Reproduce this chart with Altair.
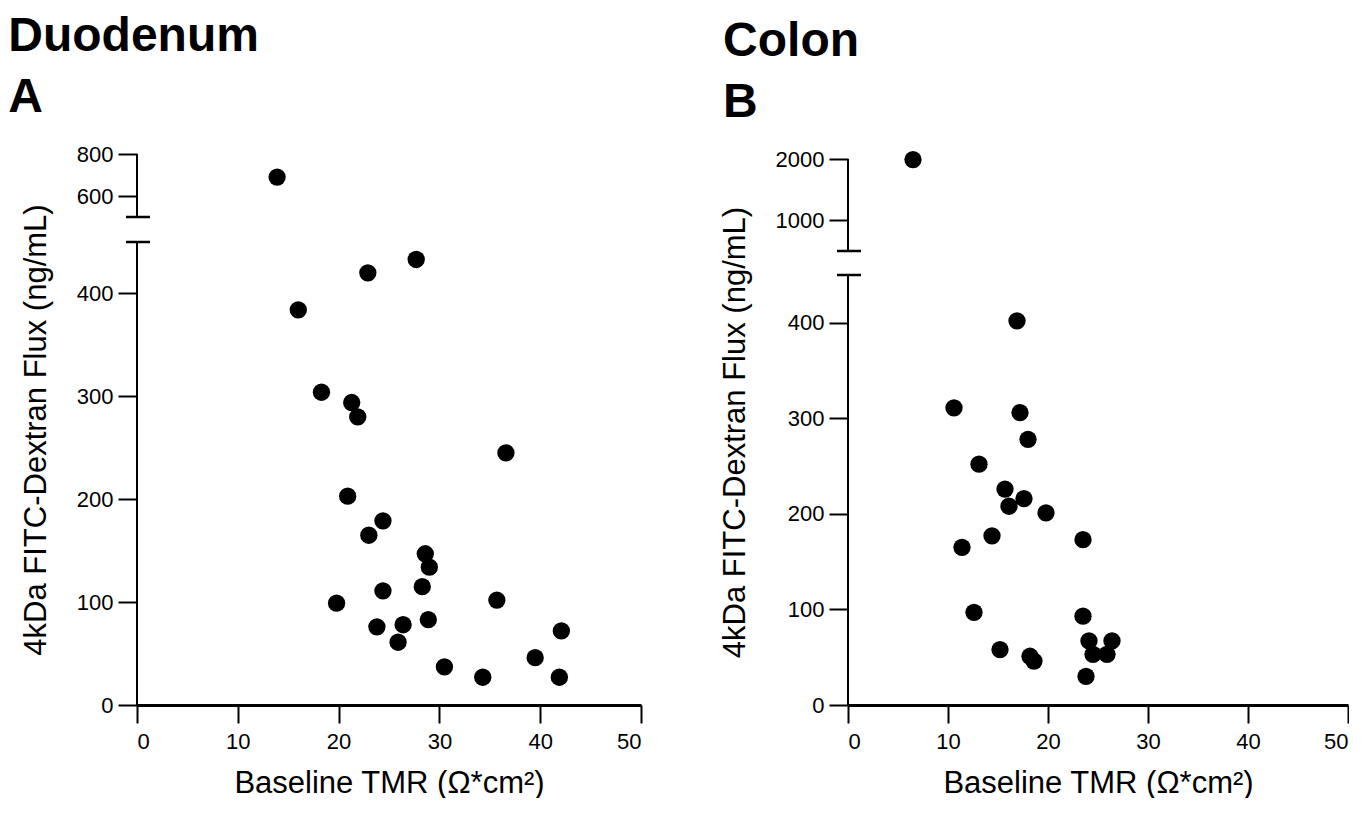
import altair as alt
import pandas as pd

# Duodenum (panel A)
duo_x = [13.9, 27.7, 22.9, 16.0, 18.3, 21.3, 21.9, 36.6, 20.9, 24.4, 23.0, 28.6, 29.0,
         28.3, 24.4, 19.8, 35.7, 23.8, 26.4, 25.9, 28.9, 42.1, 30.5, 34.3, 39.5, 41.9]
duo_y = [690, 433, 420, 384, 304, 294, 280, 245, 203, 179, 165, 147, 134,
         115, 111, 99, 102, 76, 78, 61, 83, 72, 37, 27, 46, 27]

# Colon (panel B)
col_x = [6.5, 16.9, 10.6, 17.2, 18.0, 13.1, 15.7, 17.6, 16.1, 19.8, 23.5, 14.4,
         11.4, 12.6, 23.5, 24.1, 26.4, 24.5, 25.9, 15.2, 18.2, 18.6, 23.8]
col_y = [1990, 402, 311, 306, 278, 252, 226, 216, 208, 201, 173, 177,
         165, 97, 93, 67, 67, 53, 53, 58, 51, 46, 30]

# broken-axis segments and tick labels
duo_segments = [(0, 450), (500, 800)]
col_segments = [(0, 450), (500, 2000)]
duo_ticks = [0, 100, 200, 300, 400, 600, 800]
col_ticks = [0, 100, 200, 300, 400, 1000, 2000]
x_ticks = [0, 10, 20, 30, 40, 50]

FONT = "Liberation Sans"
Y_TITLE = "4kDa FITC-Dextran Flux (ng/mL)"
X_TITLE = "Baseline TMR (Ω*cm²)"
H = 551


def panel(xs, ys, segments, ticks, domain, rng, width, title, title_dx):
    df = pd.DataFrame({"x": xs, "y": ys})
    seg_df = pd.DataFrame({"y": [s[0] for s in segments], "y2": [s[1] for s in segments]})
    cap_df = pd.DataFrame({"y": [segments[0][1], segments[1][0]]})

    yscale = alt.Scale(domain=domain, range=rng, nice=False, zero=False)
    xscale = alt.Scale(domain=[0, 50], nice=False, zero=False)
    yaxis = alt.Axis(values=ticks, format="d", title=Y_TITLE, domain=False, grid=False,
                     tickSize=19, tickWidth=2, tickColor="black",
                     labelFont=FONT, labelFontSize=22, labelColor="black", labelPadding=5,
                     titleFont=FONT, titleFontSize=31, titleFontWeight="normal",
                     titleColor="black", titlePadding=24)
    xaxis = alt.Axis(values=x_ticks, format="d", title=X_TITLE, grid=False,
                     domainColor="black", domainWidth=3,
                     tickSize=18, tickWidth=2, tickColor="black",
                     labelFont=FONT, labelFontSize=22, labelColor="black", labelPadding=8,
                     titleFont=FONT, titleFontSize=31, titleFontWeight="normal",
                     titleColor="black", titlePadding=16)

    pts = alt.Chart(df).mark_circle(size=300, color="black", opacity=1).encode(
        x=alt.X("x:Q", scale=xscale, axis=xaxis),
        y=alt.Y("y:Q", scale=yscale, axis=yaxis),
    )
    segs = alt.Chart(seg_df).mark_rule(color="black", strokeWidth=2).encode(
        x=alt.value(0),
        y=alt.Y("y:Q", scale=yscale, axis=yaxis),
        y2="y2:Q",
    )
    caps = alt.Chart(cap_df).mark_rule(color="black", strokeWidth=2.5).encode(
        x=alt.value(-11), x2=alt.value(13),
        y=alt.Y("y:Q", scale=yscale, axis=yaxis),
    )
    return alt.layer(segs, caps, pts).properties(
        width=width, height=H,
        title=alt.TitleParams(title, anchor="start", frame="bounds", font=FONT,
                              fontSize=48, fontWeight="bold", color="black",
                              lineHeight=61, offset=21, dx=title_dx),
    )


left = panel(duo_x, duo_y, duo_segments, duo_ticks, [0, 450, 500, 800],
             [H, H - 463, H - 488, 0], 504, ["Duodenum", "A"], -12)
right = panel(col_x, col_y, col_segments, col_ticks, [0, 450, 500, 2000],
              [H, H - 430, H - 454, 5], 500, ["Colon", "B"], 4)

chart = alt.hconcat(left, right, spacing=77).properties(
    padding={"left": 0, "top": 5, "right": 0, "bottom": 0}
).configure_view(stroke=None)

chart.save("out.html", embed_options={"renderer": "svg", "actions": False})
